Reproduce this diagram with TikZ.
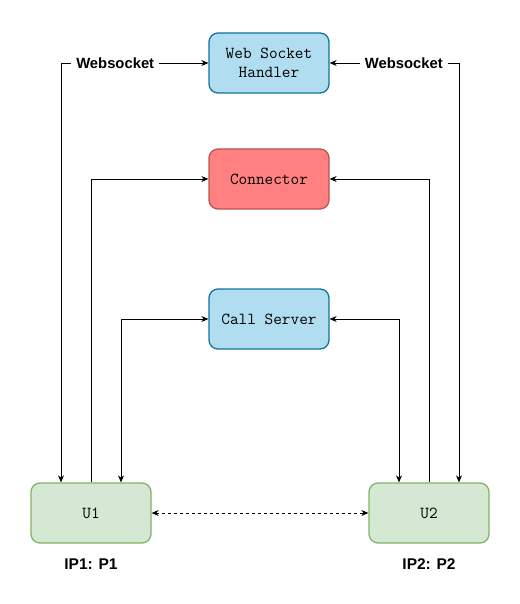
\documentclass[tikz,border=0pt]{standalone}
\usepackage{fontspec}
\setmainfont{Liberation Sans}
\usetikzlibrary{arrows.meta}
\definecolor{bluefill}{HTML}{B1DDF0}
\definecolor{bluedraw}{HTML}{10739E}
\definecolor{redfill}{HTML}{FF8080}
\definecolor{reddraw}{HTML}{B85450}
\definecolor{greenfill}{HTML}{D5E8D4}
\definecolor{greendraw}{HTML}{82B366}
\tikzset{
  box/.style={rounded corners=9pt, line width=1.3pt, minimum width=120pt, minimum height=60pt, inner sep=0pt, align=center, font=\ttfamily\fontsize{16.8}{19}\selectfont},
  bluebox/.style={box, fill=bluefill, draw=bluedraw},
  redbox/.style={box, fill=redfill, draw=reddraw},
  greenbox/.style={box, fill=greenfill, draw=greendraw},
  conn/.style={line width=0.8pt, {Stealth[length=7pt,width=6pt]}-{Stealth[length=7pt,width=6pt]}},
  connone/.style={line width=0.8pt, -{Stealth[length=7pt,width=6pt]}},
  lbl/.style={font=\bfseries\fontsize{14.8}{17}\selectfont, fill=white, inner xsep=5pt, inner ysep=2pt},
  iplbl/.style={font=\bfseries\fontsize{15.5}{17}\selectfont}
}
\begin{document}
\begin{tikzpicture}[x=1pt,y=-1pt]
\useasboundingbox (0,0) rectangle (519,604);
\node[bluebox] (wsh) at (269,63) {Web Socket\\Handler};
\node[redbox] (con) at (269,179) {Connector};
\node[bluebox] (cs) at (269,319) {Call Server};
\node[greenbox] (u1) at (91,513) {U1};
\node[greenbox] (u2) at (429,513) {U2};
\node[iplbl] (ip1) at (91,564) {IP1: P1};
\node[iplbl] (ip2) at (429,564) {IP2: P2};
% websocket
\draw[conn] (wsh.west) -| ([xshift=-30pt]u1.north) node[lbl, pos=0.316] {Websocket};
\draw[conn] (wsh.east) -| ([xshift=30pt]u2.north) node[lbl, pos=0.287] {Websocket};
% connector
\draw[connone] (u1.north) |- (con.west);
\draw[connone] (u2.north) |- (con.east);
% call server
\draw[conn] (cs.west) -| ([xshift=30pt]u1.north);
\draw[conn] (cs.east) -| ([xshift=-30pt]u2.north);
% dashed
\draw[conn, dashed, dash pattern=on 3pt off 3pt] (u1.east) -- (u2.west);
\end{tikzpicture}
\end{document}
